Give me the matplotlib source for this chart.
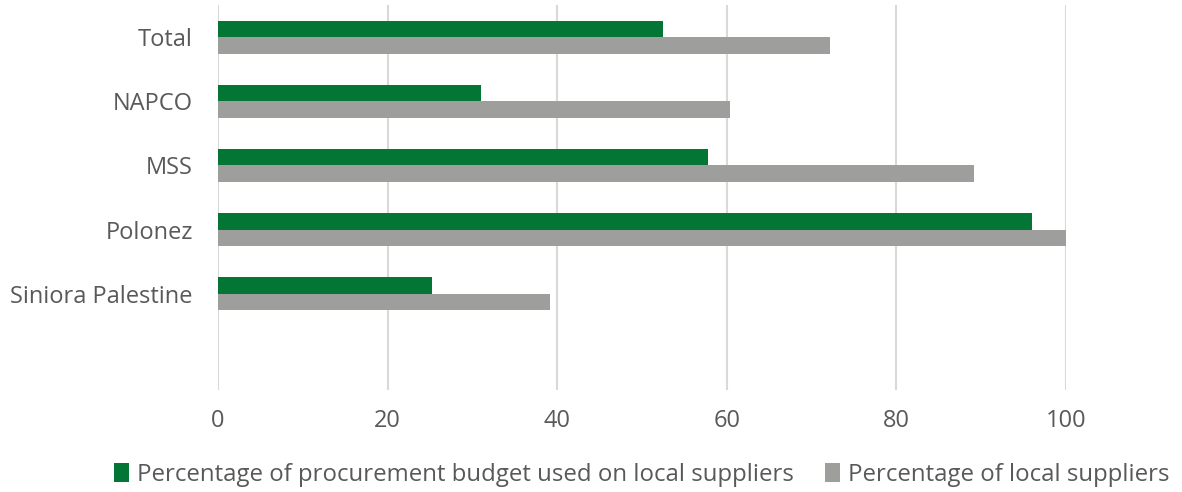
import numpy as np
import matplotlib.pyplot as plt

# данные
companies = ['Total', 'NAPCO', 'MSS', 'Polonez', 'Siniora Palestine']
budget_local = [52.5, 31.0, 57.8, 96.0, 25.2]
suppliers_local = [72.2, 60.4, 89.2, 100.0, 39.2]
x_ticks = [0, 20, 40, 60, 80, 100]

plt.rcParams['font.family'] = ['Open Sans', 'DejaVu Sans']
text_color = '#595959'

fig = plt.figure(figsize=(11.82, 4.92), dpi=100)
ax = fig.add_axes([0.1844, 0.2073, 0.9019 - 0.1844, 0.9898 - 0.2073])

# позиции сверху вниз, внизу пустой слот
pos = np.arange(len(companies), 0, -1)
h = 0.256

ax.barh(pos + h / 2, budget_local, height=h, color='#037635',
        label='Percentage of procurement budget used on local suppliers', zorder=3)
ax.barh(pos - h / 2, suppliers_local, height=h, color='#9e9e9c',
        label='Percentage of local suppliers', zorder=3)

ax.set_ylim(-0.5, len(companies) + 0.5)
ax.set_xlim(0, 100)
ax.set_yticks(pos)
ax.set_yticklabels(companies)
ax.set_xticks(x_ticks)

ax.grid(axis='x', color='#d9d9d9', linewidth=1.5, zorder=0)
for s in ax.spines.values():
    s.set_visible(False)
ax.tick_params(axis='both', length=0, labelsize=17, colors=text_color)
ax.tick_params(axis='y', pad=18)
ax.tick_params(axis='x', pad=14)

fig.legend(loc='center', bbox_to_anchor=(0.543, 0.035), ncol=2, frameon=False,
           fontsize=17.3, labelcolor=text_color, handlelength=0.6, handleheight=0.8,
           handletextpad=0.35, columnspacing=1.3)

plt.savefig('out.png', dpi=100)
